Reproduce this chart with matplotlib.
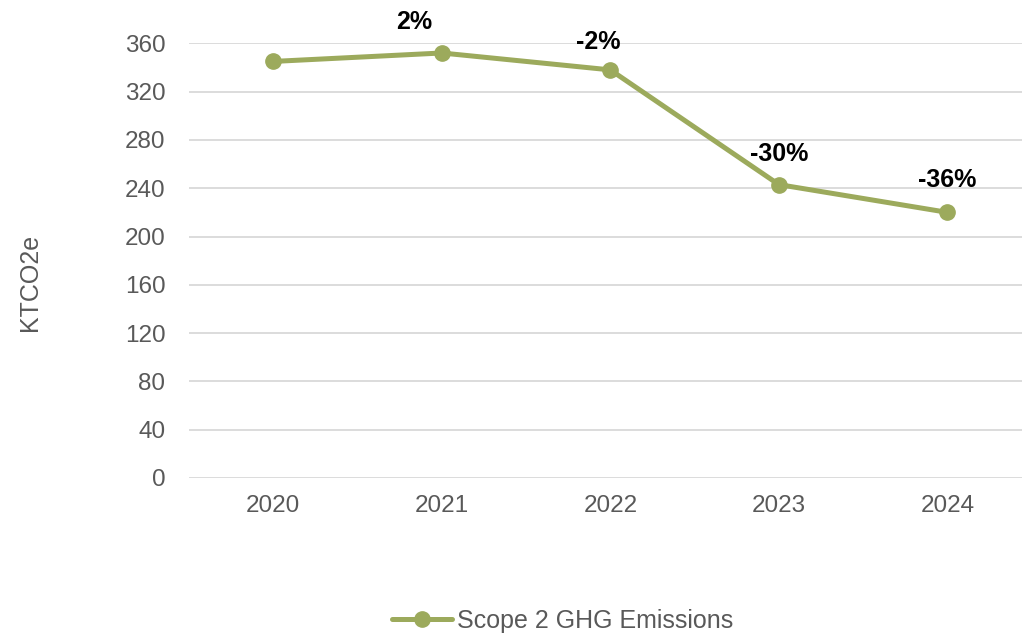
import matplotlib.pyplot as plt

plt.rcParams['font.family'] = ['Liberation Sans', 'DejaVu Sans']

years = ['2020', '2021', '2022', '2023', '2024']
emissions = [345, 352, 338, 243, 220]   # KTCO2e
series_name = 'Scope 2 GHG Emissions'
yticks = [0, 40, 80, 120, 160, 200, 240, 280, 320, 360]

# change against the 2020 baseline, shown from 2021 on
changes = [round((v / emissions[0] - 1) * 100) for v in emissions]
label_dx = [0, -20, -9, 0, 0]   # small nudges so labels clear the line
label_dy = [0, 22, 20, 22, 23]

green = '#9caa5c'
grey = '#595959'

fig = plt.figure(figsize=(10.22, 6.39), dpi=100)
ax = fig.add_axes([0.185, 0.252, 0.8244, 0.6802])

x = list(range(len(years)))
ax.plot(x, emissions, color=green, lw=3.6, marker='o', markersize=11,
        label=series_name, solid_capstyle='round')

for i in range(1, len(years)):
    ax.annotate(f'{changes[i]}%', (x[i], emissions[i]),
                xytext=(label_dx[i], label_dy[i]), textcoords='offset points',
                ha='center', va='center', fontsize=18, fontweight='bold',
                color='black')

ax.set_xlim(-0.5, len(years) - 0.5)
ax.set_ylim(0, 360)
ax.set_xticks(x)
ax.set_xticklabels(years)
ax.set_yticks(yticks)
ax.tick_params(axis='both', length=0, labelsize=17.5, labelcolor=grey)
ax.tick_params(axis='x', pad=12)
ax.tick_params(axis='y', pad=17)

ax.grid(axis='y', color='#d9d9d9', lw=1.3)
ax.set_axisbelow(True)
for s in ax.spines.values():
    s.set_visible(False)

ax.set_ylabel('KTCO2e', fontsize=18, color=grey)
ax.yaxis.set_label_coords(-0.1745, 0.451)

fig.legend(loc='center', bbox_to_anchor=(0.551, 0.028), frameon=False,
           fontsize=18, labelcolor=grey, handlelength=2.4, handletextpad=0.2)

fig.savefig('out.png', dpi=100)
